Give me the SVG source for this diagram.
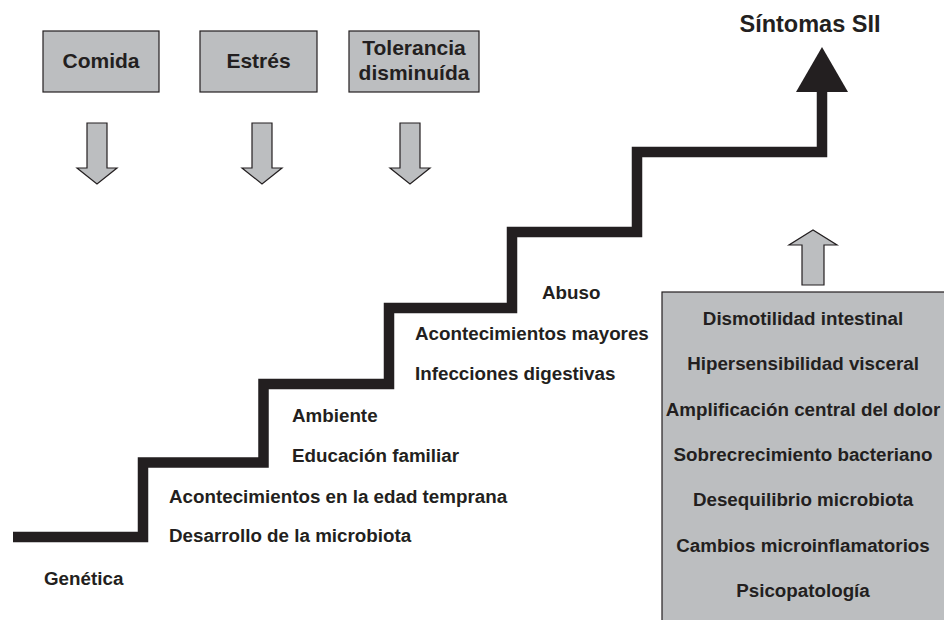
<svg xmlns="http://www.w3.org/2000/svg" width="944" height="620" viewBox="0 0 944 620">
<style>
.box{fill:#bcbec0;stroke:#231f20;stroke-width:1.2}
.arr{fill:#bcbec0;stroke:#231f20;stroke-width:1.2;stroke-linejoin:miter}
text{font-family:"Liberation Sans",Arial,sans-serif;font-weight:bold;fill:#231f20}
.bt{font-size:21px;text-anchor:middle}
.lb{font-size:18.8px}
.rt{font-size:18.8px;text-anchor:middle}
.stair{fill:none;stroke:#231f20;stroke-width:10.5;stroke-linejoin:miter;stroke-linecap:butt}
</style>
<rect width="944" height="620" fill="#ffffff"/>
<g id="comida">
<rect class="box" x="43" y="31" width="116" height="61"/>
<text class="bt" x="101" y="68">Comida</text>
</g>
<g id="estres">
<rect class="box" x="200" y="31" width="117" height="61"/>
<text class="bt" x="258.5" y="68">Estrés</text>
</g>
<g id="tolerancia">
<rect class="box" x="349" y="31" width="130" height="61"/>
<text class="bt" x="414" y="55">Tolerancia</text>
<text class="bt" x="414" y="80">disminuída</text>
</g>
<g id="sintomas">
<text x="810" y="32" style="font-size:23.5px;text-anchor:middle">Síntomas SII</text>
</g>
<g id="factores">
<rect class="box" x="662" y="292" width="290" height="340"/>
<text class="rt" x="803" y="325">Dismotilidad intestinal</text>
<text class="rt" x="803" y="370">Hipersensibilidad visceral</text>
<text class="rt" x="803" y="415.5">Amplificación central del dolor</text>
<text class="rt" x="803" y="461">Sobrecrecimiento bacteriano</text>
<text class="rt" x="803" y="506">Desequilibrio microbiota</text>
<text class="rt" x="803" y="551.5">Cambios microinflamatorios</text>
<text class="rt" x="803" y="597">Psicopatología</text>
</g>
<g id="labels">
<text class="lb" x="44" y="585">Genética</text>
<text class="lb" x="169" y="542">Desarrollo de la microbiota</text>
<text class="lb" x="169" y="503">Acontecimientos en la edad temprana</text>
<text class="lb" x="292" y="462">Educación familiar</text>
<text class="lb" x="292" y="422">Ambiente</text>
<text class="lb" x="415" y="380">Infecciones digestivas</text>
<text class="lb" x="415" y="340">Acontecimientos mayores</text>
<text class="lb" x="542" y="299">Abuso</text>
</g>
<g id="connectors">
<polygon class="arr" points="87,123 107,123 107,168 117,168 97,184 77,168 87,168"/>
<polygon class="arr" points="252,123 272,123 272,168 282,168 262,184 242,168 252,168"/>
<polygon class="arr" points="400,123 420,123 420,168 430,168 410,184 390,168 400,168"/>
<polygon class="arr" points="802,285 824,285 824,245 837,245 813,230 789,245 802,245"/>
<path class="stair" d="M13,537 H143 V462.5 H263.5 V384 H389 V308 H512 V232 H637 V152 H822 V90"/>
<polygon points="796,92 848,92 822,47" fill="#231f20"/>
</g>
</svg>
